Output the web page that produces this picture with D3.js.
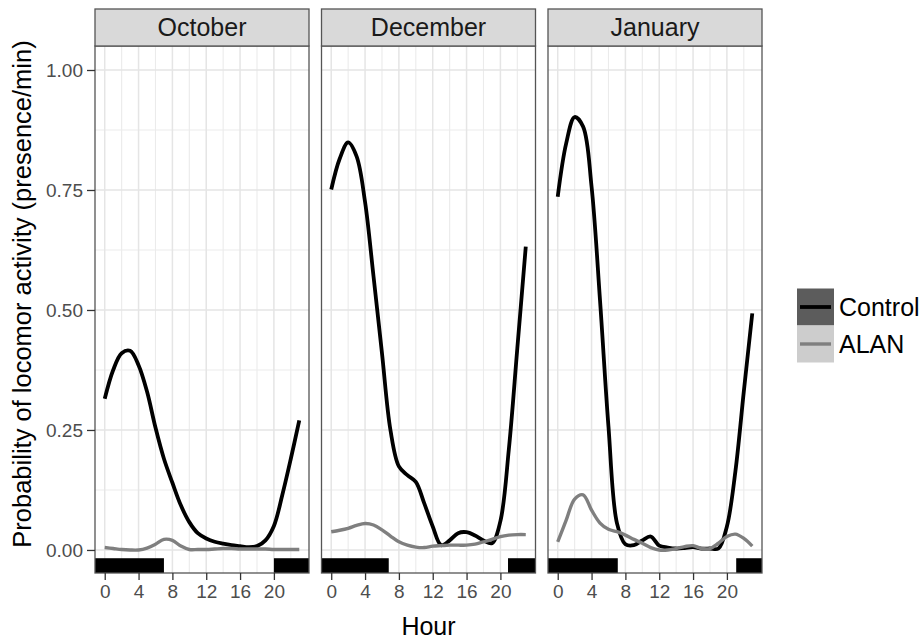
<!DOCTYPE html>
<html><head><meta charset="utf-8">
<script src="https://cdn.jsdelivr.net/npm/d3@7/dist/d3.min.js"></script>
<style>body{margin:0;background:#fff}svg{display:block}</style>
</head><body>
<script>
// ---- data ----
const months = ["October", "December", "January"];
const seriesNames = ["Control", "ALAN"];
const hours = [0,1,2,3,4,5,6,7,8,9,10,11,12,13,14,15,16,17,18,19,20,21,22,23];

const octControl = [0.315,0.375,0.410,0.415,0.385,0.330,0.255,0.190,0.140,0.093,0.058,0.035,0.024,0.017,0.013,0.010,0.008,0.006,0.008,0.020,0.050,0.115,0.190,0.270];
const octALAN    = [0.005,0.003,0.001,0.000,0.000,0.004,0.012,0.022,0.020,0.008,0.001,0.001,0.001,0.002,0.003,0.003,0.002,0.002,0.002,0.002,0.001,0.001,0.001,0.001];
const decControl = [0.751,0.815,0.849,0.820,0.725,0.570,0.410,0.250,0.174,0.156,0.142,0.097,0.049,0.010,0.020,0.035,0.037,0.030,0.020,0.014,0.060,0.210,0.420,0.632];
const decALAN    = [0.038,0.041,0.045,0.051,0.055,0.052,0.042,0.029,0.017,0.010,0.006,0.005,0.008,0.009,0.010,0.010,0.010,0.012,0.017,0.022,0.028,0.031,0.032,0.032];
const janControl = [0.736,0.847,0.902,0.882,0.757,0.520,0.257,0.056,0.012,0.010,0.020,0.028,0.009,0.005,0.003,0.004,0.006,0.003,0.003,0.003,0.049,0.163,0.330,0.493];
const janALAN    = [0.017,0.062,0.106,0.115,0.083,0.056,0.043,0.038,0.031,0.022,0.014,0.005,0.000,0.000,0.003,0.007,0.009,0.003,0.003,0.014,0.028,0.033,0.024,0.008];

const nightEnd   = [7.0, 6.8, 7.1];   // dark period ends (hour)
const nightStart = [20.0, 20.9, 21.1]; // dark period starts (hour)

const yTicks = [0, 0.25, 0.5, 0.75, 1];
const yTickLabels = ["0.00", "0.25", "0.50", "0.75", "1.00"];
const yMinor = [0.125, 0.375, 0.625, 0.875];
const xTicks = [0, 4, 8, 12, 16, 20];
const xMinor = [2, 6, 10, 14, 18, 22];

const panelData = [
  {Control: octControl, ALAN: octALAN},
  {Control: decControl, ALAN: decALAN},
  {Control: janControl, ALAN: janALAN}
];

// ---- layout ----
const W = 923, H = 639;
const panelX = [95, 321.5, 548];
const panelW = 214;
const stripTop = 9, panelTop = 46, panelBottom = 573;
const colors = {Control: "#000000", ALAN: "#7f7f7f"};
const widths = {Control: 3.8, ALAN: 3.4};
const keyFill = {Control: "#5c5c5c", ALAN: "#cdcdcd"};
const font = "'Liberation Sans', Arial, Helvetica, sans-serif";

const svg = d3.select("body").append("svg").attr("width", W).attr("height", H)
  .style("font-family", font);

const y = d3.scaleLinear().domain([-0.048, 1.05]).range([panelBottom, panelTop]);

months.forEach((m, i) => {
  const x0 = panelX[i];
  const x = d3.scaleLinear().domain([-1.15, 24.15]).range([x0, x0 + panelW]);
  const g = svg.append("g");

  g.append("rect").attr("x", x0).attr("y", panelTop).attr("width", panelW)
    .attr("height", panelBottom - panelTop).attr("fill", "#fff");

  // minor grid
  g.selectAll(".vmin").data(xMinor).join("line")
    .attr("x1", d => x(d)).attr("x2", d => x(d)).attr("y1", panelTop).attr("y2", panelBottom)
    .attr("stroke", "#ebebeb").attr("stroke-width", 1.1);
  g.selectAll(".hmin").data(yMinor).join("line")
    .attr("y1", d => y(d)).attr("y2", d => y(d)).attr("x1", x0).attr("x2", x0 + panelW)
    .attr("stroke", "#ebebeb").attr("stroke-width", 1.1);
  // major grid
  g.selectAll(".vmaj").data(xTicks).join("line")
    .attr("x1", d => x(d)).attr("x2", d => x(d)).attr("y1", panelTop).attr("y2", panelBottom)
    .attr("stroke", "#e5e5e5").attr("stroke-width", 1.5);
  g.selectAll(".hmaj").data(yTicks).join("line")
    .attr("y1", d => y(d)).attr("y2", d => y(d)).attr("x1", x0).attr("x2", x0 + panelW)
    .attr("stroke", "#e5e5e5").attr("stroke-width", 1.5);

  // night bars
  const bars = [[-1.15, nightEnd[i]], [nightStart[i], 24.15]];
  g.selectAll(".night").data(bars).join("rect")
    .attr("x", d => x(d[0])).attr("width", d => x(d[1]) - x(d[0]))
    .attr("y", y(-0.0172)).attr("height", y(-0.048) - y(-0.0172))
    .attr("fill", "#000");

  // lines
  const line = d3.line().x((d, j) => x(hours[j])).y(d => y(d)).curve(d3.curveCatmullRom.alpha(0.5));
  seriesNames.forEach(s => {
    g.append("path").datum(panelData[i][s]).attr("d", line)
      .attr("fill", "none").attr("stroke", colors[s]).attr("stroke-width", widths[s])
      .attr("stroke-linejoin", "round").attr("stroke-linecap", "butt");
  });

  // border
  g.append("rect").attr("x", x0).attr("y", panelTop).attr("width", panelW)
    .attr("height", panelBottom - panelTop).attr("fill", "none")
    .attr("stroke", "#555").attr("stroke-width", 1.3);

  // strip
  g.append("rect").attr("x", x0).attr("y", stripTop).attr("width", panelW)
    .attr("height", panelTop - stripTop).attr("fill", "#d9d9d9")
    .attr("stroke", "#555").attr("stroke-width", 1.3);
  g.append("text").attr("x", x0 + panelW / 2).attr("y", 36)
    .attr("text-anchor", "middle").attr("font-size", 25).attr("fill", "#1a1a1a").text(m);

  // x axis
  const xa = svg.append("g").attr("transform", `translate(0,${panelBottom})`)
    .call(d3.axisBottom(x).tickValues(xTicks).tickSize(7).tickPadding(5).tickFormat(d3.format("d")));
  xa.select(".domain").remove();
  xa.selectAll(".tick line").attr("stroke", "#333").attr("stroke-width", 1.3);
  xa.selectAll(".tick text").attr("font-size", 19).attr("fill", "#4d4d4d").attr("font-family", font);

  if (i === 0) {
    const ya = svg.append("g").attr("transform", `translate(${x0},0)`)
      .call(d3.axisLeft(y).tickValues(yTicks).tickSize(8).tickPadding(4)
        .tickFormat((d, k) => yTickLabels[k]));
    ya.select(".domain").remove();
    ya.selectAll(".tick line").attr("stroke", "#333").attr("stroke-width", 1.3);
    ya.selectAll(".tick text").attr("font-size", 19).attr("fill", "#4d4d4d").attr("font-family", font);
  }
});

// axis titles
svg.append("text").attr("x", (panelX[0] + panelX[2] + panelW) / 2).attr("y", 635)
  .attr("text-anchor", "middle").attr("font-size", 25).attr("fill", "#000").text("Hour");
svg.append("text").attr("transform", `translate(31,294) rotate(-90)`)
  .attr("text-anchor", "middle").attr("font-size", 25.5).attr("fill", "#000")
  .text("Probability of locomor activity (presence/min)");

// legend
const leg = svg.append("g");
seriesNames.forEach((s, k) => {
  const ky = 288.5 + k * 37;
  leg.append("rect").attr("x", 797).attr("y", ky).attr("width", 37).attr("height", 37)
    .attr("fill", keyFill[s]);
  leg.append("line").attr("x1", 800).attr("x2", 831).attr("y1", ky + 18.5).attr("y2", ky + 18.5)
    .attr("stroke", colors[s]).attr("stroke-width", widths[s]);
  leg.append("text").attr("x", 839).attr("y", ky + 18.5 + 9).attr("font-size", 25)
    .attr("fill", "#000").text(s);
});
</script>
</body></html>
